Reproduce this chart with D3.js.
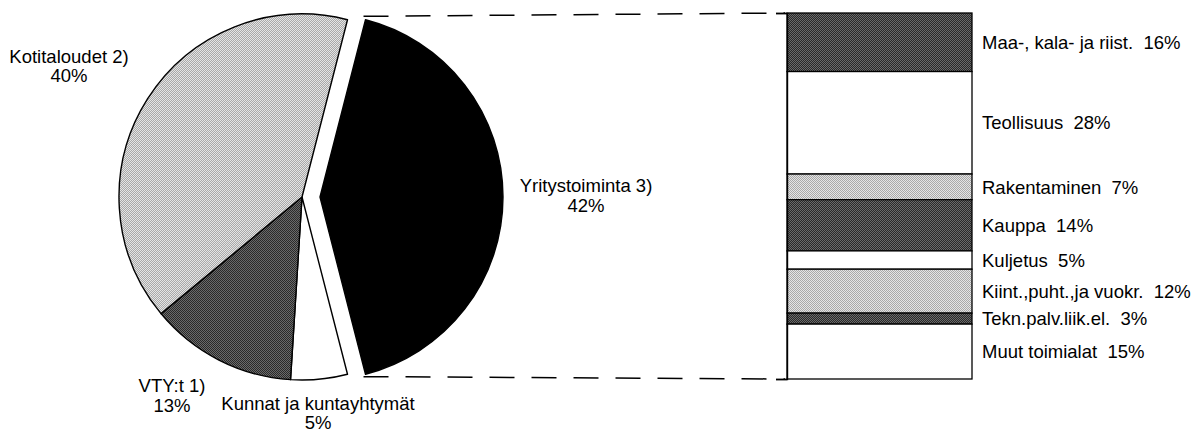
<!DOCTYPE html>
<html>
<head>
<meta charset="utf-8">
<script src="https://cdn.jsdelivr.net/npm/d3@7/dist/d3.min.js"></script>
<style>
  html, body { margin: 0; padding: 0; background: #fff; }
  text { font-family: "Liberation Sans", Arial, Helvetica, sans-serif; font-size: 18.5px; fill: #000; }
</style>
</head>
<body>
<svg id="chart" width="1196" height="434"></svg>
<script>
// ---- data ----
const pieCategories = ["Yritystoiminta 3)", "Kunnat ja kuntayhtymät", "VTY:t 1)", "Kotitaloudet 2)"];
const pieValues = [42, 5, 13, 40];
const pieFills = ["black", "white", "dark", "light"];

const barCategories = ["Maa-, kala- ja riist.", "Teollisuus", "Rakentaminen", "Kauppa", "Kuljetus",
  "Kiint.,puht.,ja vuokr.", "Tekn.palv.liik.el.", "Muut toimialat"];
const barValues = [16, 28, 7, 14, 5, 12, 3, 15];
const barFills = ["dark", "white", "light", "dark", "white", "light", "dark", "white"];

// ---- setup ----
const svg = d3.select("#chart");
const defs = svg.append("defs");
function checker(id, a, b) {
  const p = defs.append("pattern").attr("id", id).attr("patternUnits", "userSpaceOnUse")
    .attr("width", 2).attr("height", 2);
  p.append("rect").attr("width", 2).attr("height", 2).attr("fill", a);
  p.append("rect").attr("width", 1).attr("height", 1).attr("fill", b);
  p.append("rect").attr("x", 1).attr("y", 1).attr("width", 1).attr("height", 1).attr("fill", b);
}
checker("pLight", "#e4e4e4", "#a8a8a8");
checker("pDark", "#2a2a2a", "#6a6a6a");
const fillOf = k => k === "light" ? "url(#pLight)" : k === "dark" ? "url(#pDark)" : k === "black" ? "#000" : "#fff";

// ---- pie ----
const cx = 302, cy = 197, R = 183, explode = 18;
const total = d3.sum(pieValues);
const firstSpan = pieValues[0] / total * 2 * Math.PI;
const start = Math.PI / 2 - firstSpan / 2;
const pie = d3.pie().sort(null).value(d => d).startAngle(start).endAngle(start + 2 * Math.PI);
const arcs = pie(pieValues);
const arc = d3.arc().innerRadius(0).outerRadius(R);

const gPie = svg.append("g").attr("transform", `translate(${cx},${cy})`);
gPie.selectAll("path").data(arcs).join("path")
  .attr("transform", (d, i) => {
    if (i !== 0) return null;
    const m = (d.startAngle + d.endAngle) / 2;
    return `translate(${explode * Math.sin(m)},${-explode * Math.cos(m)})`;
  })
  .attr("d", arc)
  .attr("fill", (d, i) => fillOf(pieFills[i]))
  .attr("stroke", "#000").attr("stroke-width", 1.4).attr("stroke-linejoin", "round");

// pie labels (placement offsets relative to pie centre)
const pieLabelPos = [[284, -5], [16, 213], [-130, 195], [-233, -134]];
const pieLineGap = [19.5, 19, 19.5, 19];
pieCategories.forEach((c, i) => {
  const t = svg.append("text").attr("text-anchor", "middle")
    .attr("x", cx + pieLabelPos[i][0]).attr("y", cy + pieLabelPos[i][1]);
  t.append("tspan").attr("x", cx + pieLabelPos[i][0]).text(c);
  t.append("tspan").attr("x", cx + pieLabelPos[i][0]).attr("dy", pieLineGap[i]).text(pieValues[i] + "%");
});

// ---- stacked bar ----
const barX0 = 787, barX1 = 972, barTop = 13, barBottom = 379;
const y = d3.scaleLinear().domain([0, d3.sum(barValues)]).range([barTop, barBottom]);
let acc = 0;
const segs = barValues.map((v, i) => { const s = { i, v, y0: acc, y1: acc + v }; acc += v; return s; });

const gBar = svg.append("g");
gBar.selectAll("rect").data(segs).join("rect")
  .attr("x", barX0).attr("width", barX1 - barX0)
  .attr("y", d => y(d.y0)).attr("height", d => y(d.y1) - y(d.y0))
  .attr("fill", d => fillOf(barFills[d.i]))
  .attr("stroke", "#000").attr("stroke-width", 1.3);

// axis-like ticks at top and bottom of bar
const axis = d3.axisLeft(y).tickValues([0, d3.sum(barValues)]).tickSize(11).tickFormat("");
svg.append("g").attr("transform", `translate(${barX0},0)`).call(axis)
  .call(g => g.selectAll("path,line").attr("stroke", "#000").attr("stroke-width", 1.4));

gBar.selectAll("text").data(segs).join("text")
  .attr("x", barX1 + 10).attr("y", d => y((d.y0 + d.y1) / 2)).attr("dy", "0.36em")
  .style("white-space", "pre")
  .text(d => `${barCategories[d.i]}  ${d.v}%`);

// ---- dashed connector lines ----
const a0 = arcs[0];
const m0 = (a0.startAngle + a0.endAngle) / 2;
const ex = cx + explode * Math.sin(m0), ey = cy - explode * Math.cos(m0);
const pTop = [ex + R * Math.sin(a0.startAngle), ey - R * Math.cos(a0.startAngle)];
const pBot = [ex + R * Math.sin(a0.endAngle), ey - R * Math.cos(a0.endAngle)];
[[pTop, [barX0, y(0)]], [pBot, [barX0, y(d3.sum(barValues))]]].forEach(([p, q]) => {
  svg.append("line").attr("x1", p[0] - 2).attr("y1", (p[1] + q[1]) / 2).attr("x2", q[0] - 2).attr("y2", q[1])
    .attr("stroke", "#000").attr("stroke-width", 1.5).attr("stroke-dasharray", "25,17");
});
</script>
</body>
</html>
